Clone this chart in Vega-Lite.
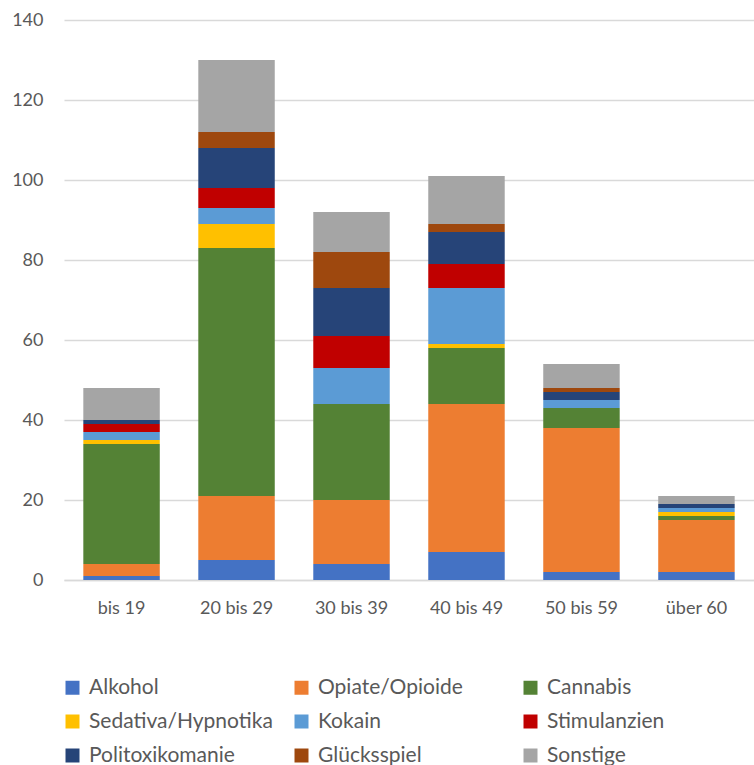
{
  "$schema": "https://vega.github.io/schema/vega-lite/v6.json",
  "width": 690,
  "height": 560,
  "autosize": {"type": "none"},
  "padding": {"left": 64, "top": 20, "right": 0, "bottom": 185},
  "background": "white",
  "config": {
    "font": "Lato",
    "view": {"stroke": null}
  },
  "data": {
    "values": [
      {"alter": "bis 19", "gruppe": "Alkohol", "anzahl": 1},
      {"alter": "bis 19", "gruppe": "Opiate/Opioide", "anzahl": 3},
      {"alter": "bis 19", "gruppe": "Cannabis", "anzahl": 30},
      {"alter": "bis 19", "gruppe": "Sedativa/Hypnotika", "anzahl": 1},
      {"alter": "bis 19", "gruppe": "Kokain", "anzahl": 2},
      {"alter": "bis 19", "gruppe": "Stimulanzien", "anzahl": 2},
      {"alter": "bis 19", "gruppe": "Politoxikomanie", "anzahl": 1},
      {"alter": "bis 19", "gruppe": "Glücksspiel", "anzahl": 0},
      {"alter": "bis 19", "gruppe": "Sonstige", "anzahl": 8},

      {"alter": "20 bis 29", "gruppe": "Alkohol", "anzahl": 5},
      {"alter": "20 bis 29", "gruppe": "Opiate/Opioide", "anzahl": 16},
      {"alter": "20 bis 29", "gruppe": "Cannabis", "anzahl": 62},
      {"alter": "20 bis 29", "gruppe": "Sedativa/Hypnotika", "anzahl": 6},
      {"alter": "20 bis 29", "gruppe": "Kokain", "anzahl": 4},
      {"alter": "20 bis 29", "gruppe": "Stimulanzien", "anzahl": 5},
      {"alter": "20 bis 29", "gruppe": "Politoxikomanie", "anzahl": 10},
      {"alter": "20 bis 29", "gruppe": "Glücksspiel", "anzahl": 4},
      {"alter": "20 bis 29", "gruppe": "Sonstige", "anzahl": 18},

      {"alter": "30 bis 39", "gruppe": "Alkohol", "anzahl": 4},
      {"alter": "30 bis 39", "gruppe": "Opiate/Opioide", "anzahl": 16},
      {"alter": "30 bis 39", "gruppe": "Cannabis", "anzahl": 24},
      {"alter": "30 bis 39", "gruppe": "Sedativa/Hypnotika", "anzahl": 0},
      {"alter": "30 bis 39", "gruppe": "Kokain", "anzahl": 9},
      {"alter": "30 bis 39", "gruppe": "Stimulanzien", "anzahl": 8},
      {"alter": "30 bis 39", "gruppe": "Politoxikomanie", "anzahl": 12},
      {"alter": "30 bis 39", "gruppe": "Glücksspiel", "anzahl": 9},
      {"alter": "30 bis 39", "gruppe": "Sonstige", "anzahl": 10},

      {"alter": "40 bis 49", "gruppe": "Alkohol", "anzahl": 7},
      {"alter": "40 bis 49", "gruppe": "Opiate/Opioide", "anzahl": 37},
      {"alter": "40 bis 49", "gruppe": "Cannabis", "anzahl": 14},
      {"alter": "40 bis 49", "gruppe": "Sedativa/Hypnotika", "anzahl": 1},
      {"alter": "40 bis 49", "gruppe": "Kokain", "anzahl": 14},
      {"alter": "40 bis 49", "gruppe": "Stimulanzien", "anzahl": 6},
      {"alter": "40 bis 49", "gruppe": "Politoxikomanie", "anzahl": 8},
      {"alter": "40 bis 49", "gruppe": "Glücksspiel", "anzahl": 2},
      {"alter": "40 bis 49", "gruppe": "Sonstige", "anzahl": 12},

      {"alter": "50 bis 59", "gruppe": "Alkohol", "anzahl": 2},
      {"alter": "50 bis 59", "gruppe": "Opiate/Opioide", "anzahl": 36},
      {"alter": "50 bis 59", "gruppe": "Cannabis", "anzahl": 5},
      {"alter": "50 bis 59", "gruppe": "Sedativa/Hypnotika", "anzahl": 0},
      {"alter": "50 bis 59", "gruppe": "Kokain", "anzahl": 2},
      {"alter": "50 bis 59", "gruppe": "Stimulanzien", "anzahl": 0},
      {"alter": "50 bis 59", "gruppe": "Politoxikomanie", "anzahl": 2},
      {"alter": "50 bis 59", "gruppe": "Glücksspiel", "anzahl": 1},
      {"alter": "50 bis 59", "gruppe": "Sonstige", "anzahl": 6},

      {"alter": "über 60", "gruppe": "Alkohol", "anzahl": 2},
      {"alter": "über 60", "gruppe": "Opiate/Opioide", "anzahl": 13},
      {"alter": "über 60", "gruppe": "Cannabis", "anzahl": 1},
      {"alter": "über 60", "gruppe": "Sedativa/Hypnotika", "anzahl": 1},
      {"alter": "über 60", "gruppe": "Kokain", "anzahl": 1},
      {"alter": "über 60", "gruppe": "Stimulanzien", "anzahl": 0},
      {"alter": "über 60", "gruppe": "Politoxikomanie", "anzahl": 1},
      {"alter": "über 60", "gruppe": "Glücksspiel", "anzahl": 0},
      {"alter": "über 60", "gruppe": "Sonstige", "anzahl": 2}
    ]
  },
  "transform": [
    {
      "calculate": "indexof(['Alkohol', 'Opiate/Opioide', 'Cannabis', 'Sedativa/Hypnotika', 'Kokain', 'Stimulanzien', 'Politoxikomanie', 'Glücksspiel', 'Sonstige'], datum.gruppe)",
      "as": "stapelfolge"
    }
  ],
  "mark": {"type": "bar"},
  "encoding": {
    "x": {
      "field": "alter",
      "type": "nominal",
      "sort": ["bis 19", "20 bis 29", "30 bis 39", "40 bis 49", "50 bis 59", "über 60"],
      "scale": {"paddingInner": 0.335, "paddingOuter": 0.168},
      "axis": {
        "title": null,
        "labelAngle": 0,
        "ticks": false,
        "labelPadding": 19,
        "labelFontSize": 18,
        "labelColor": "#595959",
        "domainColor": "#D9D9D9",
        "domainWidth": 1.5
      }
    },
    "y": {
      "field": "anzahl",
      "type": "quantitative",
      "stack": "zero",
      "scale": {"domain": [0, 140], "nice": false},
      "axis": {
        "title": null,
        "values": [0, 20, 40, 60, 80, 100, 120, 140],
        "domain": false,
        "ticks": false,
        "labelPadding": 21,
        "labelFontSize": 18,
        "labelColor": "#595959",
        "gridColor": "#D9D9D9",
        "gridWidth": 1.5
      }
    },
    "color": {
      "field": "gruppe",
      "type": "nominal",
      "sort": ["Alkohol", "Opiate/Opioide", "Cannabis", "Sedativa/Hypnotika", "Kokain", "Stimulanzien", "Politoxikomanie", "Glücksspiel", "Sonstige"],
      "scale": {
        "domain": ["Alkohol", "Opiate/Opioide", "Cannabis", "Sedativa/Hypnotika", "Kokain", "Stimulanzien", "Politoxikomanie", "Glücksspiel", "Sonstige"],
        "range": ["#4472C4", "#ED7D31", "#548235", "#FFC000", "#5B9BD5", "#C00000", "#264478", "#9E480E", "#A5A5A5"]
      },
      "legend": {
        "title": null,
        "orient": "none",
        "legendX": -2,
        "legendY": 657,
        "direction": "horizontal",
        "columns": 3,
        "gridAlign": "all",
        "columnPadding": 18,
        "rowPadding": 12,
        "symbolType": "square",
        "symbolSize": 196,
        "symbolStrokeWidth": 0,
        "labelFontSize": 21,
        "labelColor": "#595959",
        "labelOffset": 6,
        "labelLimit": 300
      }
    },
    "order": {"field": "stapelfolge", "type": "quantitative", "sort": "ascending"}
  }
}
